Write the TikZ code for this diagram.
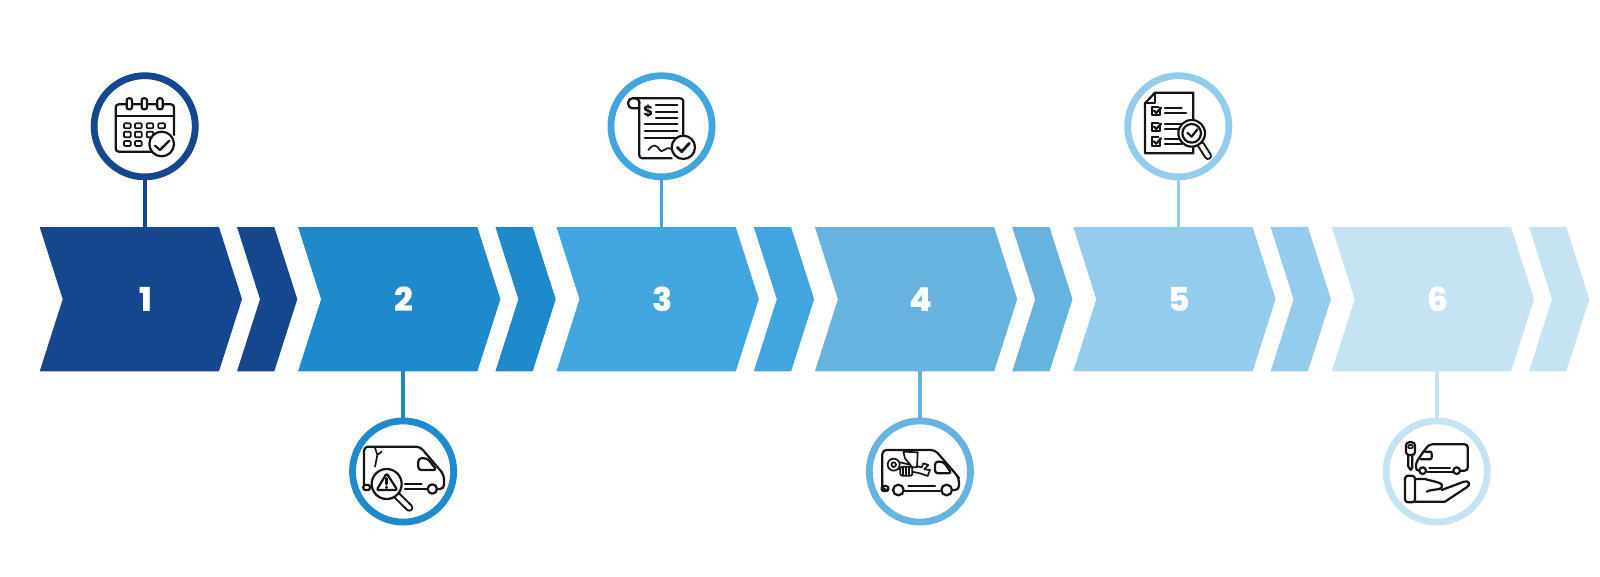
\documentclass[tikz,border=0pt]{standalone}
\usepackage{fontspec}
\setmainfont{Poppins}
\newfontfamily\numfont{Poppins ExtraBold}
\usetikzlibrary{shapes.symbols}
\definecolor{stepa}{HTML}{14478E}
\definecolor{stepb}{HTML}{1F8ACB}
\definecolor{stepc}{HTML}{41A6E0}
\definecolor{stepd}{HTML}{66B3E0}
\definecolor{stepe}{HTML}{94CCEE}
\definecolor{stepf}{HTML}{C5E3F3}
\definecolor{ink}{HTML}{141414}
\begin{document}
\begin{tikzpicture}[x=1pt,y=-1pt,
    chev/.style={shape=signal, signal from=west, signal to=east,
      signal pointer angle=144.6, inner sep=0pt, outer sep=0pt,
      minimum height=144.3pt, minimum width=202.3pt},
    tailchev/.style={chev, minimum width=60.3pt},
    badge/.style={shape=circle, draw, fill=white, line width=6.8pt,
      inner sep=0pt, outer sep=0pt, minimum size=101.2pt},
    stem/.style={line width=3.6pt},
    num/.style={text=white, inner sep=0pt, xshift=1pt, font=\fontsize{33}{33}\selectfont\numfont},
    icon/.style={shift={#1}, x=0.3333pt, y=-0.3333pt, draw=ink, line width=2.2pt,
      line join=round, line cap=round},
    thin/.style={line width=1.7pt}]
  \useasboundingbox (0,0) rectangle (1600,577);

  \node[chev,fill=stepa] (a1) at (140.85,299.2) {};
  \node[tailchev,fill=stepa] (t1) at (267.15,299.2) {};
  \node[chev,fill=stepb] (a2) at (399.25,299.2) {};
  \node[tailchev,fill=stepb] (t2) at (525.55,299.2) {};
  \node[chev,fill=stepc] (a3) at (657.65,299.2) {};
  \node[tailchev,fill=stepc] (t3) at (783.95,299.2) {};
  \node[chev,fill=stepd] (a4) at (916.05,299.2) {};
  \node[tailchev,fill=stepd] (t4) at (1042.35,299.2) {};
  \node[chev,fill=stepe] (a5) at (1174.45,299.2) {};
  \node[tailchev,fill=stepe] (t5) at (1300.75,299.2) {};
  \node[chev,fill=stepf] (a6) at (1432.85,299.2) {};
  \node[tailchev,fill=stepf] (t6) at (1559.15,299.2) {};

  \node[badge,draw=stepa] (b1) at (144.7,126.3) {};
  \node[badge,draw=stepb] (b2) at (403.1,471.5) {};
  \node[badge,draw=stepc] (b3) at (661.5,126.3) {};
  \node[badge,draw=stepd] (b4) at (919.9,471.5) {};
  \node[badge,draw=stepe] (b5) at (1178.3,126.3) {};
  \node[badge,draw=stepf] (b6) at (1436.7,471.5) {};

  \draw[stem,draw=stepa] (b1.south) -- (b1.south |- a1.north);
  \draw[stem,draw=stepb] (b2.north) -- (b2.north |- a2.south);
  \draw[stem,draw=stepc] (b3.south) -- (b3.south |- a3.north);
  \draw[stem,draw=stepd] (b4.north) -- (b4.north |- a4.south);
  \draw[stem,draw=stepe] (b5.south) -- (b5.south |- a5.north);
  \draw[stem,draw=stepf] (b6.north) -- (b6.north |- a6.south);

  \node[num] (n1) at (b1 |- a1) {1};
  \node[num] (n2) at (b2 |- a2) {2};
  \node[num] (n3) at (b3 |- a3) {3};
  \node[num] (n4) at (b4 |- a4) {4};
  \node[num] (n5) at (b5 |- a5) {5};
  \node[num] (n6) at (b6 |- a6) {6};

  % calendar
  \begin{scope}[icon={(80,60)}]
    \draw[rounded corners=3pt] (282,225) -- (282,133) -- (107,133) -- (107,275) -- (215,275);
    \draw (107,168) -- (282,168);
    \foreach \ringx in {148,193,240}
      \draw[fill=white,rounded corners=2pt] (\ringx-8,115) rectangle (\ringx+8,148);
    \foreach \cellx in {132,165,200,235}
      \draw[thin,rounded corners=1pt] (\cellx,190) rectangle (\cellx+20,205);
    \foreach \cellx in {132,165,200}
      \draw[thin,rounded corners=1pt] (\cellx,215) rectangle (\cellx+20,232);
    \foreach \cellx in {132,165}
      \draw[thin,rounded corners=1pt] (\cellx,243) rectangle (\cellx+20,258);
    \draw[fill=white] (245,252) circle (37);
    \draw (225,257) -- (240,270) -- (268,242);
  \end{scope}

  % van with crack
  \begin{scope}[icon={(340,410)}]
    \draw[rounded corners=4pt] (72,225) -- (72,110) -- (240,110) -- (300,180) -- (312,195) -- (312,237) -- (296,237);
    \draw[rounded corners=3pt] (235,145) -- (262,145) -- (290,180) -- (235,180) -- cycle;
    \draw[rounded corners=2pt] (70,225) rectangle (90,240);
    \draw[thin] (105,113) -- (112,135) -- (105,170) (112,135) -- (125,125);
    \draw (195,222) -- (245,222) (195,238) -- (262,238);
    \draw[fill=white] (277,237) circle (14);
    \draw[line width=8pt,draw=ink] (172,258) -- (208,293);
    \draw[line width=4pt,draw=white] (172,258) -- (208,293);
    \draw[fill=white] (140,222) circle (45);
    \draw[rounded corners=2pt] (140,190) -- (110,240) -- (172,240) -- cycle;
    \draw[line width=2.8pt] (140,205) -- (140,222) (140,231) -- (140,233);
  \end{scope}

  % invoice
  \begin{scope}[icon={(600,60)}]
    \draw[rounded corners=3pt] (100,115) -- (250,115) -- (250,240);
    \draw[rounded corners=3pt] (215,295) -- (118,295) -- (118,125);
    \draw[rounded corners=4pt] (118,145) -- (85,145) -- (85,115) -- (118,115) -- (118,130);
    \node[text=ink,inner sep=0pt,font=\fontsize{15}{15}\selectfont\bfseries] (dollar) at (145,155) {\$};
    \draw (168,135) -- (232,135) (168,155) -- (232,155) (168,175) -- (232,175);
    \draw (135,193) -- (232,193) (135,214) -- (232,214) (135,235) -- (232,235);
    \draw[thin] (145,270) .. controls (160,250) and (170,255) .. (178,268) .. controls (188,285) and (195,255) .. (215,268);
    \draw[fill=white] (250,262) circle (35);
    \draw[line width=2.8pt] (232,262) -- (245,275) -- (268,250);
  \end{scope}

  % van with wrench
  \begin{scope}[icon={(855,410)}]
    \draw[rounded corners=4pt] (100,240) -- (82,240) -- (82,120) -- (240,120) -- (305,195) -- (312,205) -- (312,240) -- (295,240);
    \draw[rounded corners=3pt] (240,155) -- (265,155) -- (290,190) -- (240,190) -- cycle;
    \draw[rounded corners=2pt] (80,228) rectangle (100,243);
    \draw[fill=white] (130,240) circle (16);
    \draw[fill=white] (275,240) circle (16);
    \draw (160,228) -- (240,228) (150,243) -- (255,243);
    \draw[thin,fill=white] (130,156) -- (200,172) -- (205,160) -- (220,165) -- (208,178) -- (225,180) -- (218,198) -- (195,190) -- (128,176) -- cycle;
    \draw[thin,fill=white] (116,164) circle (18);
    \draw[thin] (116,164) circle (7);
    \draw[thin,fill=white] (145,125) -- (188,127) -- (186,172) -- (172,172) -- (150,145) -- cycle;
    \draw[thin,fill=white,rounded corners=2pt] (136,170) rectangle (172,197);
    \draw[thin] (145,170) -- (145,197) (154,170) -- (154,197) (163,170) -- (163,197);
  \end{scope}

  % checklist
  \begin{scope}[icon={(1110,60)}]
    \draw (250,185) -- (250,98) -- (135,98) -- (105,130) -- (105,280) -- (250,280) -- (250,262);
    \draw (135,98) -- (135,128) -- (105,128);
    \foreach \boxy in {140,188,232} {
      \draw (150,\boxy+4) -- (150,\boxy+25) -- (125,\boxy+25) -- (125,\boxy) -- (145,\boxy);
      \draw (132,\boxy+12) -- (139,\boxy+19) -- (153,\boxy+3);
    }
    \draw (165,145) -- (215,145) (165,160) -- (228,160) (165,192) -- (215,192);
    \draw (165,208) -- (205,208) (165,238) -- (210,238) (165,252) -- (215,252);
    \draw[line width=8pt,draw=ink] (273,255) -- (294,288);
    \draw[line width=4pt,draw=white] (273,255) -- (294,288);
    \draw[fill=white] (245,220) circle (40);
    \draw (245,220) circle (28);
    \draw (232,218) -- (245,230) -- (262,208);
  \end{scope}

  % key, van and hand
  \begin{scope}[icon={(1370,410)}]
    \draw[rounded corners=3pt] (108,97) rectangle (135,135);
    \draw[thin,rounded corners=1pt] (115,105) rectangle (128,115);
    \draw (115,135) -- (115,170) -- (122,180) -- (127,172) -- (127,135);
    \draw[rounded corners=3pt] (148,182) -- (138,182) -- (138,158) -- (160,125) -- (178,103) -- (293,103) -- (293,182) -- (272,182);
    \draw[rounded corners=2pt] (165,125) -- (185,125) -- (185,148) -- (152,148);
    \draw[fill=white] (158,182) circle (10);
    \draw[fill=white] (260,182) circle (10);
    \draw (178,175) -- (240,175) (172,185) -- (248,185);
    \draw[rounded corners=3pt] (105,197) rectangle (135,277);
    \draw (135,207) -- (165,207) .. controls (190,215) and (225,218) .. (215,232) .. controls (210,242) and (190,235) .. (170,245);
    \draw (215,240) -- (282,215) .. controls (297,210) and (303,225) .. (290,232) -- (225,275) -- (135,275);
  \end{scope}
\end{tikzpicture}
\end{document}
